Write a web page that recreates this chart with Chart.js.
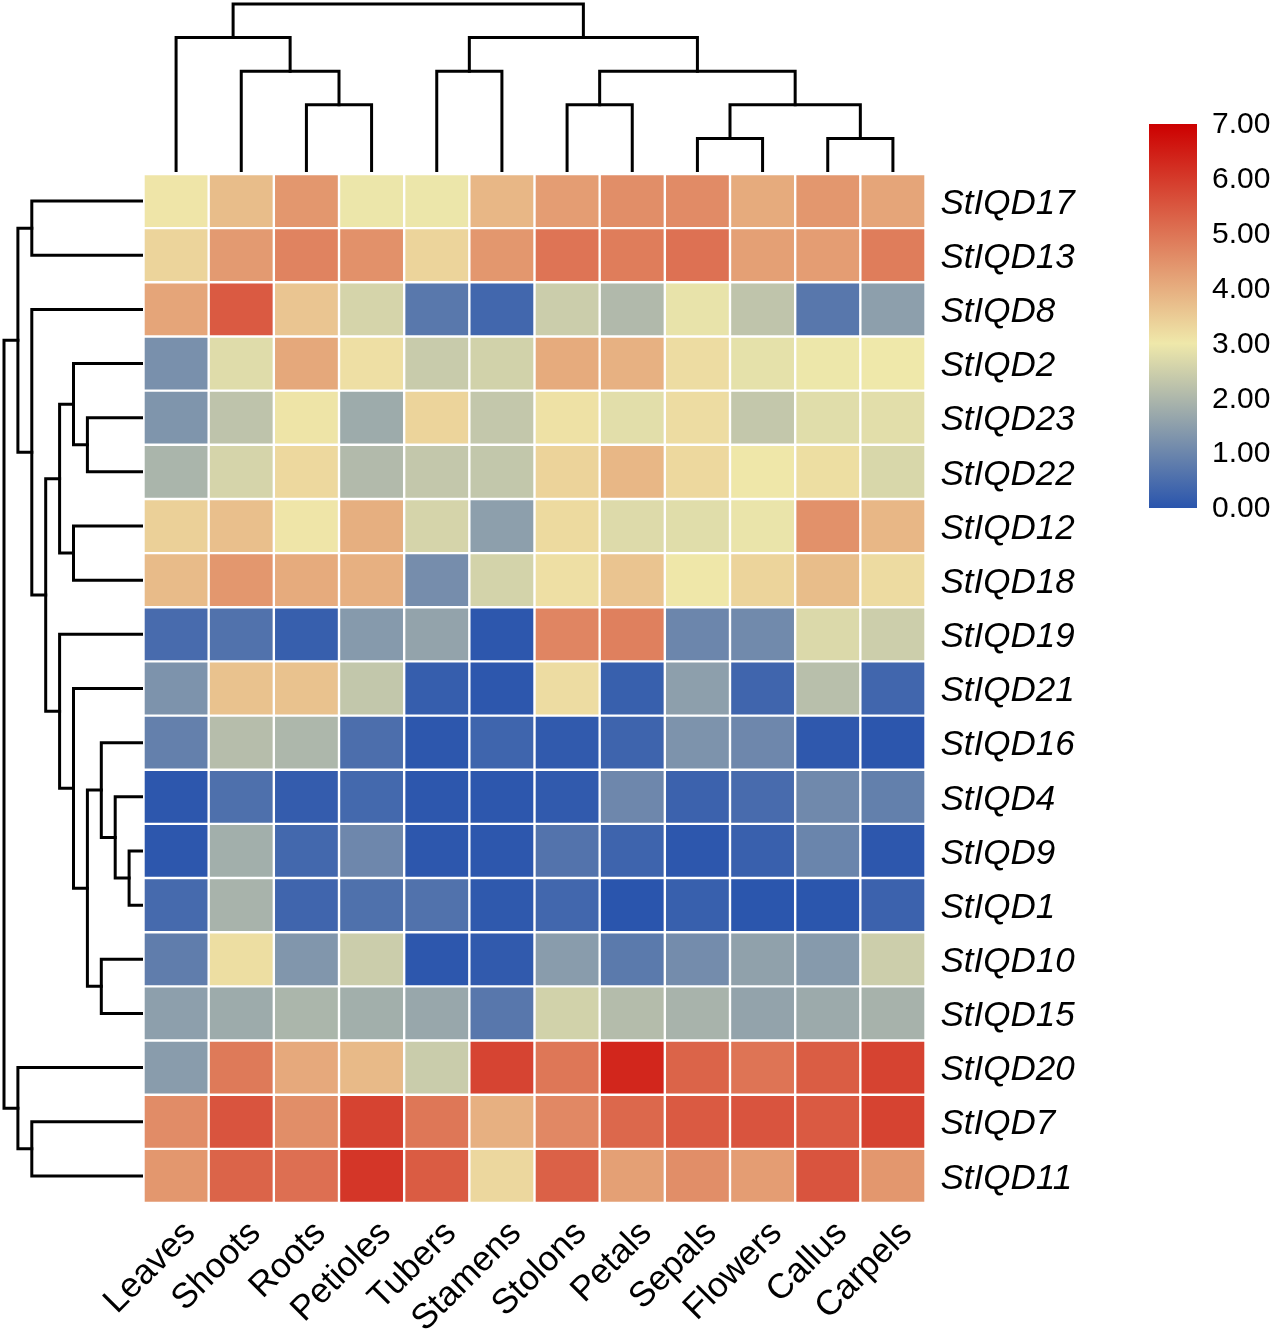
<!DOCTYPE html>
<html>
<head>
<meta charset="utf-8">
<title>StIQD expression heatmap</title>
<script src="https://cdn.jsdelivr.net/npm/chart.js@4/dist/chart.umd.js"></script>
<style>
html, body { margin: 0; padding: 0; background: #fff; }
#page { position: relative; width: 1274px; height: 1329px; overflow: hidden; }
canvas { position: absolute; }
</style>
</head>
<body>
<div id="page">
  <canvas id="heat" style="left:0;top:0" width="1274" height="1329"></canvas>
  <canvas id="colTree" style="left:143px;top:0" width="783" height="172"></canvas>
  <canvas id="rowTree" style="left:0;top:174px" width="143" height="1029"></canvas>
  <canvas id="legend" style="left:1100px;top:100px" width="174" height="440"></canvas>
</div>
<script>
var colLabels = ["Leaves", "Shoots", "Roots", "Petioles", "Tubers", "Stamens", "Stolons", "Petals", "Sepals", "Flowers", "Callus", "Carpels"]
var rowLabels = ["StIQD17", "StIQD13", "StIQD8", "StIQD2", "StIQD23", "StIQD22", "StIQD12", "StIQD18", "StIQD19", "StIQD21", "StIQD16", "StIQD4", "StIQD9", "StIQD1", "StIQD10", "StIQD15", "StIQD20", "StIQD7", "StIQD11"]

// one row per gene, same order as colLabels
var values = [
    [3.05, 3.75, 4.40, 2.95, 2.95, 3.85, 4.30, 4.55, 4.60, 4.05, 4.40, 4.15],
    [3.35, 4.35, 4.75, 4.50, 3.35, 4.40, 5.00, 4.85, 5.05, 4.25, 4.30, 4.85],
    [4.15, 5.45, 3.60, 2.60, 0.72, 0.37, 2.45, 2.05, 2.90, 2.27, 0.70, 1.50],
    [1.20, 2.75, 4.10, 3.15, 2.40, 2.55, 4.05, 3.95, 3.20, 2.85, 2.97, 3.00],
    [1.30, 2.25, 3.07, 1.75, 3.35, 2.33, 3.12, 2.80, 3.20, 2.33, 2.77, 2.80],
    [1.95, 2.60, 3.28, 2.07, 2.33, 2.32, 3.37, 3.85, 3.28, 3.02, 3.18, 2.65],
    [3.42, 3.70, 3.05, 3.98, 2.60, 1.50, 3.25, 2.72, 2.77, 2.92, 4.50, 3.85],
    [3.78, 4.40, 4.05, 3.97, 1.15, 2.58, 3.15, 3.62, 3.02, 3.35, 3.75, 3.22],
    [0.45, 0.60, 0.20, 1.40, 1.60, 0.05, 4.70, 4.80, 1.00, 1.08, 2.70, 2.47],
    [1.27, 3.65, 3.65, 2.32, 0.18, 0.05, 3.20, 0.22, 1.50, 0.33, 2.17, 0.35],
    [0.88, 2.13, 2.00, 0.52, 0.05, 0.32, 0.10, 0.30, 1.27, 1.03, 0.07, 0.03],
    [0.05, 0.55, 0.15, 0.40, 0.05, 0.05, 0.10, 1.03, 0.27, 0.45, 1.07, 0.87],
    [0.04, 1.83, 0.38, 1.03, 0.05, 0.05, 0.62, 0.30, 0.05, 0.23, 0.97, 0.05],
    [0.42, 1.92, 0.33, 0.57, 0.60, 0.08, 0.36, 0.00, 0.22, 0.02, 0.02, 0.27],
    [0.82, 3.18, 1.33, 2.45, 0.04, 0.10, 1.45, 0.75, 1.12, 1.55, 1.40, 2.47],
    [1.50, 1.75, 1.97, 1.83, 1.68, 0.70, 2.55, 2.10, 1.92, 1.60, 1.73, 1.90],
    [1.45, 4.90, 4.08, 3.80, 2.42, 5.83, 4.95, 6.35, 5.28, 5.00, 5.40, 5.85],
    [4.58, 5.55, 4.55, 5.85, 4.95, 3.97, 4.65, 5.20, 5.45, 5.55, 5.45, 5.85],
    [4.40, 5.28, 5.08, 6.07, 5.42, 3.29, 5.33, 4.25, 4.55, 4.30, 5.55, 4.40]
]

// merges as in R hclust: negative = leaf (1-based), positive = earlier merge; last item is the height
var colMerges = [
    [-3, -4, 2], [-2, 1, 3], [-1, 2, 4], [-5, -6, 3], [-7, -8, 2], [-9, -10, 1],
    [-11, -12, 1], [6, 7, 2], [5, 8, 3], [4, 9, 4], [3, 10, 5]
]
var rowMerges = [
    [-1, -2, 8], [-5, -6, 4], [-4, 2, 5], [-7, -8, 5], [3, 4, 6], [-13, -14, 1],
    [-12, 6, 2], [-11, 7, 3], [-15, -16, 3], [8, 9, 4], [-10, 10, 5], [-9, 11, 6],
    [5, 12, 7], [-3, 13, 8], [1, 14, 9], [-18, -19, 8], [-17, 16, 9], [15, 17, 10]
]

var legendTicks = [0, 1, 2, 3, 4, 5, 6, 7]
var colorStops = [[0, [42, 85, 173]], [3, [239, 232, 170]], [7, [204, 0, 0]]]

function colorFor(v) {
    for (var i = 1; i < colorStops.length; i++) {
        if (v <= colorStops[i][0]) {
            var a = colorStops[i - 1], b = colorStops[i]
            var t = (v - a[0]) / (b[0] - a[0])
            var c = a[1].map(function(n, k) { return Math.round(n + (b[1][k] - n) * t) })
            return "rgb(" + c.join(",") + ")"
        }
    }
    return "rgb(204,0,0)"
}

// turn merge list into line segments, positions come from leaf order
function treeLines(merges) {
    var nodes = []
    var lines = []
    merges.forEach(function(m) {
        var l = m[0] < 0 ? { pos: -m[0] - 0.5, h: 0 } : nodes[m[0] - 1]
        var r = m[1] < 0 ? { pos: -m[1] - 0.5, h: 0 } : nodes[m[1] - 1]
        lines.push([[l.pos, l.h], [l.pos, m[2]], [r.pos, m[2]], [r.pos, r.h]])
        nodes.push({ pos: (l.pos + r.pos) / 2, h: m[2] })
    })
    return lines
}

function treeDatasets(merges, flip) {
    return treeLines(merges).map(function(line) {
        return {
            data: line.map(function(p) { return flip ? { x: p[1], y: p[0] } : { x: p[0], y: p[1] } }),
            showLine: true,
            pointRadius: 0,
            borderColor: "#000",
            borderWidth: 3,
            borderCapStyle: "square",
            borderJoinStyle: "miter",
            tension: 0,
            clip: false
        }
    })
}

Chart.defaults.font.family = "'Liberation Sans', Arial, sans-serif"
Chart.defaults.color = "#000"
Chart.defaults.animation = false
Chart.defaults.responsive = false
Chart.defaults.devicePixelRatio = 1
Chart.defaults.plugins.legend.display = false
Chart.defaults.plugins.tooltip.enabled = false

new Chart(document.getElementById("heat").getContext("2d"), {
    type: "bar",
    data: {
        labels: rowLabels,
        datasets: colLabels.map(function(name, j) {
            return {
                label: name,
                data: rowLabels.map(function() { return 1 }),
                backgroundColor: values.map(function(row) { return colorFor(row[j]) }),
                borderColor: "#fff",
                borderWidth: 1.2,
                borderSkipped: false,
                inflateAmount: 0,
                barPercentage: 1,
                categoryPercentage: 1
            }
        })
    },
    options: {
        indexAxis: "y",
        layout: { padding: { left: 143.5, top: 174 } },
        scales: {
            x: { stacked: true, min: 0, max: 12, display: false },
            y: {
                stacked: true,
                position: "right",
                grid: { display: false, drawTicks: false, tickLength: 0 },
                border: { display: false },
                ticks: { autoSkip: false, padding: 15, labelOffset: 3, font: { size: 35, style: "italic" } },
                afterFit: function(s) { s.width = 348.5 }
            },
            xNames: {
                axis: "x",
                type: "category",
                position: "bottom",
                labels: colLabels,
                offset: true,
                grid: { display: false, drawTicks: false, tickLength: 0 },
                border: { display: false },
                ticks: { autoSkip: false, minRotation: 45, maxRotation: 45, padding: 10, labelOffset: 14, font: { size: 35 } },
                afterFit: function(s) { s.height = 126 }
            }
        }
    }
})

new Chart(document.getElementById("colTree").getContext("2d"), {
    type: "scatter",
    data: { datasets: treeDatasets(colMerges, false) },
    options: {
        layout: { padding: { top: 4, left: 0.5, right: 0.5 } },
        scales: {
            x: { type: "linear", min: 0, max: 12, display: false },
            y: { type: "linear", min: 0, max: 5, display: false }
        }
    }
})

new Chart(document.getElementById("rowTree").getContext("2d"), {
    type: "scatter",
    data: { datasets: treeDatasets(rowMerges, true) },
    options: {
        layout: { padding: { left: 4 } },
        scales: {
            x: { type: "linear", min: 0, max: 10, reverse: true, display: false },
            y: { type: "linear", min: 0, max: 19, reverse: true, display: false }
        }
    }
})

new Chart(document.getElementById("legend").getContext("2d"), {
    type: "bar",
    data: {
        labels: ["scale"],
        datasets: [{
            data: [[legendTicks[0], legendTicks[legendTicks.length - 1]]],
            barPercentage: 1,
            categoryPercentage: 1,
            backgroundColor: function(ctx) {
                var area = ctx.chart.chartArea
                if (!area) return "#888"
                var g = ctx.chart.ctx.createLinearGradient(0, area.bottom, 0, area.top)
                colorStops.forEach(function(s) { g.addColorStop(s[0] / 7, colorFor(s[0])) })
                return g
            }
        }]
    },
    options: {
        layout: { padding: { left: 49, top: 24, bottom: 32 } },
        scales: {
            x: { display: false },
            y: {
                position: "right",
                min: 0,
                max: 7,
                grid: { display: false, drawTicks: false, tickLength: 0 },
                border: { display: false },
                ticks: {
                    stepSize: 1,
                    padding: 15,
                    labelOffset: 1,
                    font: { size: 30 },
                    callback: function(v) { return v.toFixed(2) }
                },
                afterFit: function(s) { s.width = 77; s.paddingTop = 0; s.paddingBottom = 0 }
            }
        }
    }
})
</script>
</body>
</html>
